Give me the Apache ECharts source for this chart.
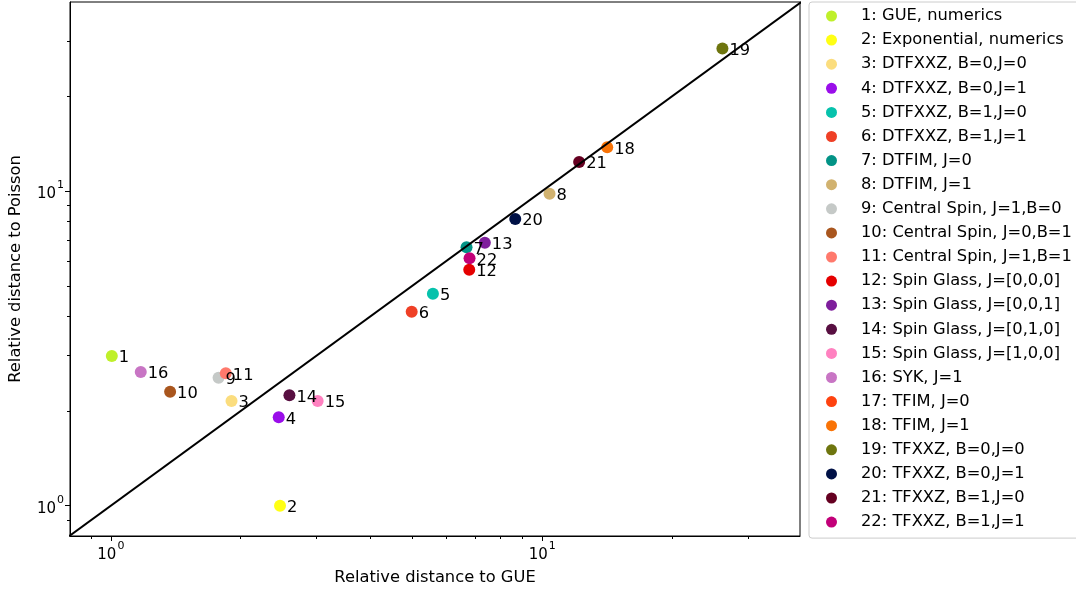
<!DOCTYPE html>
<html>
<head>
<meta charset="utf-8">
<script src="https://cdn.jsdelivr.net/npm/echarts@6/dist/echarts.min.js"></script>
<style>
  html, body { margin: 0; padding: 0; background: #fff; }
  #chart { width: 1076px; height: 591px; }
</style>
</head>
<body>
<div id="chart"></div>
<script>
// Model names, one per scatter series (numbered as in the legend)
const seriesNames = [
  '1: GUE, numerics',
  '2: Exponential, numerics',
  '3: DTFXXZ, B=0,J=0',
  '4: DTFXXZ, B=0,J=1',
  '5: DTFXXZ, B=1,J=0',
  '6: DTFXXZ, B=1,J=1',
  '7: DTFIM, J=0',
  '8: DTFIM, J=1',
  '9: Central Spin, J=1,B=0',
  '10: Central Spin, J=0,B=1',
  '11: Central Spin, J=1,B=1',
  '12: Spin Glass, J=[0,0,0]',
  '13: Spin Glass, J=[0,0,1]',
  '14: Spin Glass, J=[0,1,0]',
  '15: Spin Glass, J=[1,0,0]',
  '16: SYK, J=1',
  '17: TFIM, J=0',
  '18: TFIM, J=1',
  '19: TFXXZ, B=0,J=0',
  '20: TFXXZ, B=0,J=1',
  '21: TFXXZ, B=1,J=0',
  '22: TFXXZ, B=1,J=1'
];

// Relative distance to GUE (x) and to Poisson (y); null = no point inside the plotted range
const distGUE = [1.005, 2.467, 1.904, 2.450, 5.580, 4.982, 6.677, 10.40, 1.777, 1.372, 1.847,
                 6.774, 7.362, 2.594, 3.016, 1.173, null, 14.15, 26.17, 8.66, 12.18, 6.785];
const distPoisson = [2.99, 1.00, 2.151, 1.909, 4.717, 4.135, 6.624, 9.80, 2.551, 2.302, 2.634,
                     5.623, 6.850, 2.243, 2.151, 2.660, null, 13.77, 28.41, 8.15, 12.37, 6.111];

const markerColors = [
  '#bff02a', '#ffff14', '#fbdd7e', '#9a0eea', '#06c2ac', '#ef4026', '#029386', '#d1b26f',
  '#c5c9c7', '#a9561e', '#ff796c', '#e50000', '#7e1e9c', '#580f41', '#ff81c0', '#c875c4',
  '#fe420f', '#f97306', '#6e750e', '#001146', '#650021', '#c20078'
];

// Axis ranges and tick positions
const xRange = [0.804, 39.6];
const yRange = [0.801, 39.9];
const majorTicks = [1, 10];
const minorTicks = [0.9, 2, 3, 4, 5, 6, 7, 8, 9, 20, 30];

const FONT = 'DejaVu Sans';

function powLabel(v) {
  const e = Math.round(Math.log10(v));
  return '{b|10}{s|' + e + '}';
}
const labelRich = {
  b: { fontFamily: FONT, fontSize: 15, color: '#000', lineHeight: 22, verticalAlign: 'bottom' },
  s: { fontFamily: FONT, fontSize: 11, color: '#000', lineHeight: 22, verticalAlign: 'top', padding: [0, 0, 0, 1] }
};

function mainAxis(range, name, isX) {
  return {
    type: 'log',
    logBase: 10,
    min: range[0],
    max: range[1],
    position: isX ? 'bottom' : 'left',
    name: name,
    nameLocation: 'middle',
    nameGap: isX ? 34 : 46,
    nameTextStyle: { fontFamily: FONT, fontSize: 16.3, color: '#000' },
    axisLine: { show: true, lineStyle: { color: '#000', width: 1 } },
    axisTick: { show: true, length: 3, lineStyle: { color: '#000', width: 1 }, customValues: minorTicks },
    axisLabel: {
      show: true, customValues: majorTicks, formatter: powLabel, rich: labelRich,
      fontFamily: FONT, fontSize: 15, color: '#000',
      margin: isX ? 5 : 6
    },
    splitLine: { show: false },
    minorTick: { show: false }
  };
}
function majorTickAxis(range, isX) {
  return {
    type: 'log',
    logBase: 10,
    min: range[0],
    max: range[1],
    position: isX ? 'bottom' : 'left',
    axisLine: { show: false },
    axisTick: { show: true, length: 5, lineStyle: { color: '#000', width: 1 }, customValues: majorTicks },
    axisLabel: { show: false },
    splitLine: { show: false }
  };
}

const scatterSeries = seriesNames.map((name, i) => ({
  name: name,
  type: 'scatter',
  xAxisIndex: 0,
  yAxisIndex: 0,
  symbol: 'circle',
  symbolSize: 12,
  itemStyle: { color: markerColors[i], opacity: 1 },
  label: {
    show: true,
    position: 'right',
    distance: 1,
    offset: [0, 2],
    formatter: String(i + 1),
    fontFamily: FONT,
    fontSize: 16.3,
    color: '#000'
  },
  emphasis: { disabled: true },
  z: 3,
  data: (distGUE[i] == null || distPoisson[i] == null) ? [] : [[distGUE[i], distPoisson[i]]]
}));

// Reference line y = x
const diagonal = {
  name: 'y = x',
  type: 'line',
  xAxisIndex: 0,
  yAxisIndex: 0,
  data: [[0.8, 0.8], [40, 40]],
  symbol: 'none',
  lineStyle: { color: '#000', width: 2 },
  clip: true,
  silent: true,
  z: 4
};

const chart = echarts.init(document.getElementById('chart'), null, { renderer: 'canvas' });
chart.setOption({
  animation: false,
  backgroundColor: '#fff',
  grid: {
    left: 69, top: 2, right: 276, bottom: 55,
    show: true, borderColor: '#000', borderWidth: 1, backgroundColor: 'transparent',
    containLabel: false
  },
  xAxis: [mainAxis(xRange, 'Relative distance to GUE', true), majorTickAxis(xRange, true)],
  yAxis: [mainAxis(yRange, 'Relative distance to Poisson', false), majorTickAxis(yRange, false)],
  legend: {
    data: seriesNames,
    orient: 'vertical',
    left: 809,
    top: 2,
    icon: 'circle',
    itemWidth: 11,
    itemHeight: 11,
    itemGap: 8.1,
    padding: [6, 20, 8, 17],
    borderColor: '#cccccc',
    borderWidth: 1,
    borderRadius: 3,
    backgroundColor: '#fff',
    selectedMode: false,
    textStyle: { fontFamily: FONT, fontSize: 16.3, color: '#000', lineHeight: 16, padding: [0, 0, 0, 19] }
  },
  series: [...scatterSeries, diagonal]
});
</script>
</body>
</html>
